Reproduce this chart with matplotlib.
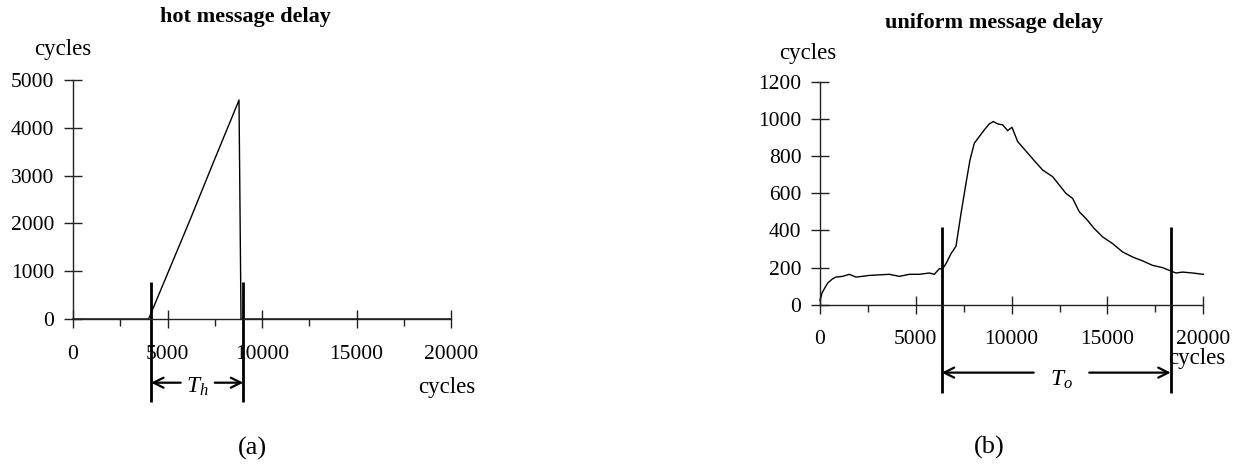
import matplotlib
matplotlib.use("Agg")
import matplotlib.pyplot as plt
from matplotlib.ticker import MultipleLocator
import matplotlib.transforms as mtransforms

plt.rcParams['font.family'] = ['Liberation Serif', 'DejaVu Serif']
plt.rcParams['mathtext.fontset'] = 'custom'
plt.rcParams['mathtext.it'] = 'Liberation Serif:italic'
plt.rcParams['mathtext.rm'] = 'Liberation Serif'

# ---- data ----
hot_x = [0, 4000, 6190, 7400, 8650, 8783, 8890, 20000]
hot_y = [0, 0, 2071, 3250, 4450, 4582, 0, 0]
hot_markers = [4130, 9010]

uni_x = [0, 104, 226, 400, 661, 835, 1183, 1530, 1878, 2574, 3617, 4139, 4661,
         5183, 5704, 5965, 6226, 6400, 6574, 6835, 7096, 7357, 7617, 7826, 8052,
         8313, 8574, 8835, 9043, 9270, 9530, 9791, 10017, 10313, 10574, 10922,
         11183, 11617, 12139, 12487, 12835, 13183, 13530, 13878, 14313, 14748,
         15270, 15791, 16313, 16835, 17357, 17878, 18226, 18574, 18922, 19443, 20000]
uni_y = [23, 63, 86, 117, 140, 149, 153, 164, 149, 158, 164, 153, 164,
         164, 171, 164, 194, 194, 221, 275, 315, 491, 653, 779, 869,
         905, 941, 973, 986, 973, 968, 937, 955, 878, 847, 806,
         775, 725, 689, 644, 599, 572, 500, 464, 410, 365,
         329, 284, 257, 236, 212, 200, 185, 171, 176, 171, 164]
uni_markers = [6350, 18300]

x_ticks = [0, 5000, 10000, 15000, 20000]
hot_yticks = [0, 1000, 2000, 3000, 4000, 5000]
uni_yticks = [0, 200, 400, 600, 800, 1000, 1200]

W, H = 1239, 465
fig = plt.figure(figsize=(W / 100, H / 100), dpi=100)

axa = fig.add_axes([73 / W, 1 - 319 / H, 378 / W, 239 / H])
axb = fig.add_axes([820 / W, 1 - 304.8 / H, 383.3 / W, 223.1 / H])

def style(ax, yticks):
    for s in ['top', 'right']:
        ax.spines[s].set_visible(False)
    for s in ['left', 'bottom']:
        ax.spines[s].set_color('#222222')
        ax.spines[s].set_linewidth(1.0)
    ax.set_xlim(0, 20000)
    ax.set_ylim(0, yticks[-1])
    ax.set_xticks(x_ticks)
    ax.set_xticklabels([str(t) for t in x_ticks])
    ax.set_yticks(yticks)
    ax.set_yticklabels([str(t) for t in yticks])
    ax.xaxis.set_minor_locator(MultipleLocator(2500))
    ax.tick_params(axis='both', which='major', direction='inout', length=13,
                   width=1.0, color='#222222', labelsize=15.5)
    ax.tick_params(axis='x', which='major', pad=12)
    ax.tick_params(axis='y', which='major', pad=7)
    ax.tick_params(axis='x', which='minor', direction='out', length=5,
                   width=1.0, color='#222222')

style(axa, hot_yticks)
style(axb, uni_yticks)

axa.plot(hot_x, hot_y, color='black', lw=1.0, clip_on=False)
axb.plot(uni_x, uni_y, color='black', lw=1.0, clip_on=False)

# marker lines and arrows
def markers(ax, xs, ytop, ybot, yarr, label, ytext, gap_l, gap_r):
    tr = mtransforms.blended_transform_factory(ax.transData, ax.transAxes)
    for x in xs:
        ax.plot([x, x], [ybot, ytop], transform=tr, color='black', lw=2.0,
                clip_on=False, solid_capstyle='butt')
    ax.annotate('', xy=(xs[0], yarr), xytext=(gap_l, yarr), xycoords=tr,
                textcoords=tr, arrowprops=dict(arrowstyle='->', color='black',
                lw=1.6, shrinkA=0, shrinkB=0, mutation_scale=18))
    ax.annotate('', xy=(xs[1], yarr), xytext=(gap_r, yarr), xycoords=tr,
                textcoords=tr, arrowprops=dict(arrowstyle='->', color='black',
                lw=1.6, shrinkA=0, shrinkB=0, mutation_scale=18))
    ax.text((gap_l + gap_r) / 2, ytext, label, transform=tr, ha='center',
            va='center', fontsize=17)

markers(axa, hot_markers, 0.156, -0.347, -0.2665, r'$T_h$', -0.285, 5700, 7500)
markers(axb, uni_markers, 0.35, -0.394, -0.304, r'$T_o$', -0.337, 11150, 14050)

def ftext(x, y, s, **kw):
    fig.text(x / W, 1 - y / H, s, ha='center', va='center', **kw)

ftext(245, 17, 'hot message delay', fontsize=16, fontweight='bold')
ftext(994, 23, 'uniform message delay', fontsize=16, fontweight='bold')
ftext(63, 49, 'cycles', fontsize=16.5)
ftext(808, 53, 'cycles', fontsize=16.5)
ftext(447, 388, 'cycles', fontsize=16.5)
ftext(1197, 358, 'cycles', fontsize=16.5)
ftext(252, 448, '(a)', fontsize=19)
ftext(989, 447, '(b)', fontsize=19)

fig.savefig('out.png', dpi=100)
